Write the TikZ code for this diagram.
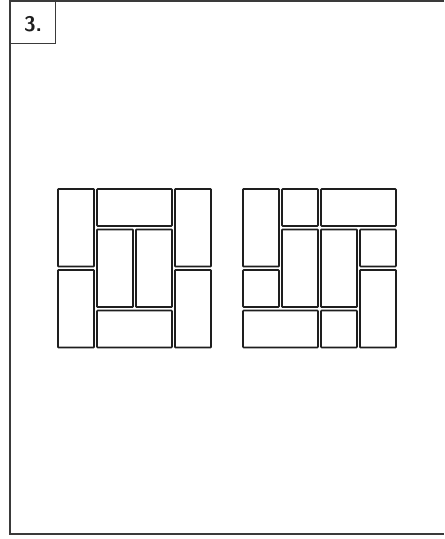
\documentclass[tikz,border=0pt]{standalone}
\usepackage{tikz}
\usetikzlibrary{positioning}
\definecolor{ink}{HTML}{1E1E1E}
\definecolor{ink2}{HTML}{3A3A3A}
\tikzset{
  every picture/.style={line width=0.3mm,draw=ink},
  tile/.style={draw=ink,fill=white,line width=0.42mm,rounded corners=0.5pt,inner sep=0pt,outer sep=0pt},
  tv/.style={tile,minimum width=9mm,minimum height=19.4mm},
  th/.style={tile,minimum width=18.75mm,minimum height=9.25mm},
  ts/.style={tile,minimum width=9mm,minimum height=9.25mm},
  frm/.style={draw=ink2,line width=0.3mm},
  num/.style={font=\sffamily\bfseries\fontsize{15}{18}\selectfont,text=ink},
}
\begin{document}
\begin{tikzpicture}[x=0.25mm,y=-0.25mm]
  \useasboundingbox (0,0) rectangle (444,539);
  % frame and number box
  \coordinate (f1) at (10,1);
  \coordinate (f2) at (10,534);
  \coordinate (f3) at (444,534);
  \coordinate (f4) at (444,1);
  \draw[frm] (f4) -- (f1) -- (f2) -- (f3);
  \node[frm,draw,minimum width=11.25mm,minimum height=10.5mm,anchor=north west,inner sep=0pt] (nb) at (10,1) {};
  \node[num] (nm) at ([yshift=-0.4mm]nb.center) {3.};
  % left tiling
  \node[tv] (l1) at (76,227.75) {};
  \node[th] (l2) at (134.5,207.5) {};
  \node[tv] (l3) at (193,227.75) {};
  \node[tv] (l4) at (76,308.75) {};
  \node[tv] (l5) at (115,268.25) {};
  \node[tv] (l6) at (154,268.25) {};
  \node[th] (l7) at (134.5,329) {};
  \node[tv] (l8) at (193,308.75) {};
  % right tiling
  \node[tv] (r1) at (261,227.75) {};
  \node[ts] (r2) at (300,207.5) {};
  \node[th] (r3) at (358.5,207.5) {};
  \node[tv] (r4) at (300,268.25) {};
  \node[tv] (r5) at (339,268.25) {};
  \node[ts] (r6) at (378,248) {};
  \node[ts] (r7) at (261,288.5) {};
  \node[tv] (r8) at (378,308.75) {};
  \node[th] (r9) at (280.5,329) {};
  \node[ts] (r10) at (339,329) {};
\end{tikzpicture}
\end{document}
